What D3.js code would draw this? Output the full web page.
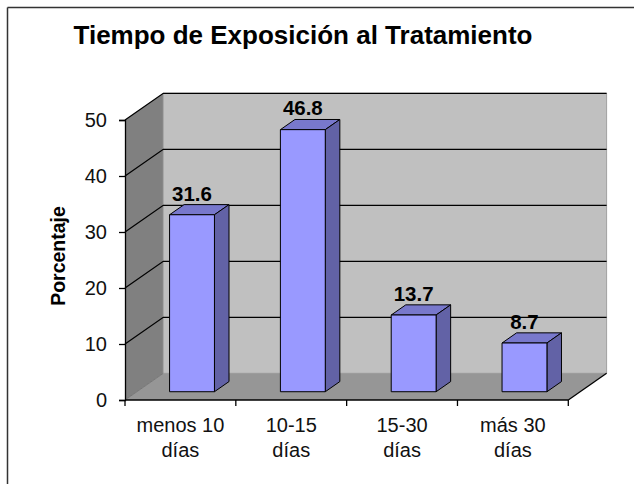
<!DOCTYPE html>
<html>
<head>
<meta charset="utf-8">
<script src="https://cdn.jsdelivr.net/npm/d3@7"></script>
<style>
  body { margin: 0; background: #fff; }
  text { font-family: "Liberation Sans", Arial, sans-serif; }
</style>
</head>
<body>
<div class="canvas"></div>
<script>
// data
var categories = ["menos 10 días", "10-15 días", "15-30 días", "más 30 días"]
var values = [31.6, 46.8, 13.7, 8.7]
var yTicks = [0, 10, 20, 30, 40, 50]

var width = 634, height = 484

var svg = d3.select(".canvas").append("svg").attr("width", width).attr("height", height)

// depth offset of the 3d box (back wall is shifted by this)
var DX = 38.3, DY = -26.7
// bars sit between these depths
var z1 = 0.31, z2 = 0.69

var x = d3.scaleBand().domain(categories).range([125, 568.3]).padding(0)
var y = d3.scaleLinear().domain([0, 50]).range([400, 120])

function proj(px, v, z) {
    return [px + DX * z, y(v) + DY * z]
}
function pts(arr) {
    return arr.map(function(p) { return p.join(",") }).join(" ")
}

// frame (only top and left edges show)
svg.append("line").attr("x1", 7.5).attr("y1", 7.5).attr("x2", width).attr("y2", 7.5)
    .attr("stroke", "#333").attr("stroke-width", 1.5)
svg.append("line").attr("x1", 7.5).attr("y1", 7.5).attr("x2", 7.5).attr("y2", height)
    .attr("stroke", "#333").attr("stroke-width", 1.5)

var x0 = x.range()[0], x1 = x.range()[1]

// left wall
svg.append("polygon")
    .attr("points", pts([proj(x0, 0, 0), proj(x0, 50, 0), proj(x0, 50, 1), proj(x0, 0, 1)]))
    .attr("fill", "#808080")

// back wall
svg.append("polygon")
    .attr("points", pts([proj(x0, 0, 1), proj(x0, 50, 1), proj(x1, 50, 1), proj(x1, 0, 1)]))
    .attr("fill", "#c0c0c0")
    .attr("stroke", "#a0a0a0")

// floor
svg.append("polygon")
    .attr("points", pts([proj(x0, 0, 0), proj(x1, 0, 0), proj(x1, 0, 1), proj(x0, 0, 1)]))
    .attr("fill", "#969696")

// gridlines on left and back walls
yTicks.forEach(function(t) {
    var a = proj(x0, t, 0), b = proj(x0, t, 1), c = proj(x1, t, 1)
    svg.append("polyline")
        .attr("points", pts(t == 0 ? [a, b] : [a, b, c]))
        .attr("fill", "none")
        .attr("stroke", t == 0 ? "#6a6a6a" : "black")
        .attr("stroke-width", t == 0 ? 0.8 : 1.3)
})

// right floor edge
svg.append("line")
    .attr("x1", proj(x1, 0, 0)[0]).attr("y1", proj(x1, 0, 0)[1])
    .attr("x2", proj(x1, 0, 1)[0]).attr("y2", proj(x1, 0, 1)[1])
    .attr("stroke", "black").attr("stroke-width", 1.3)

// bars
var bw = x.bandwidth() * 0.405
categories.forEach(function(c, i) {
    var v = values[i]
    var l = x(c) + x.bandwidth() * 0.295
    var r = l + bw

    // top
    svg.append("polygon")
        .attr("points", pts([proj(l, v, z1), proj(r, v, z1), proj(r, v, z2), proj(l, v, z2)]))
        .attr("fill", "#7878cc").attr("stroke", "black").attr("stroke-width", 1)
    // side
    svg.append("polygon")
        .attr("points", pts([proj(r, 0, z1), proj(r, v, z1), proj(r, v, z2), proj(r, 0, z2)]))
        .attr("fill", "#6262a6").attr("stroke", "black").attr("stroke-width", 1)
    // front
    svg.append("polygon")
        .attr("points", pts([proj(l, 0, z1), proj(l, v, z1), proj(r, v, z1), proj(r, 0, z1)]))
        .attr("fill", "#9999ff").attr("stroke", "black").attr("stroke-width", 1)

    // value label
    var top = proj(l, v, z2)
    svg.append("text")
        .attr("x", proj((l + r) / 2, v, z1)[0])
        .attr("y", top[1] - 4)
        .attr("text-anchor", "middle")
        .attr("font-size", 20.5)
        .attr("font-weight", "bold")
        .text(v.toFixed(1))
})

// y axis
var yAxis = svg.append("g")
    .attr("transform", "translate(" + x0 + ",0)")
    .call(d3.axisLeft(y).tickValues(yTicks).tickSize(6).tickPadding(12))
yAxis.select(".domain").attr("stroke", "black").attr("stroke-width", 1.3)
yAxis.selectAll(".tick line").attr("stroke", "black").attr("stroke-width", 1.3)
yAxis.selectAll(".tick text")
    .attr("font-family", "Liberation Sans, Arial, sans-serif")
    .attr("font-size", 20).attr("fill", "#111")

// x axis line with ticks at band edges
svg.append("line").attr("x1", x0).attr("y1", y(0)).attr("x2", x1).attr("y2", y(0))
    .attr("stroke", "black").attr("stroke-width", 1.3)
categories.map(function(c) { return x(c) }).concat([x1]).forEach(function(tx) {
    svg.append("line").attr("x1", tx).attr("y1", y(0)).attr("x2", tx).attr("y2", y(0) + 6)
        .attr("stroke", "black").attr("stroke-width", 1.3)
})

// category labels (two lines)
categories.forEach(function(c) {
    var k = c.lastIndexOf(" ")
    var lines = [c.slice(0, k), c.slice(k + 1)]
    var t = svg.append("text")
        .attr("text-anchor", "middle")
        .attr("font-size", 20)
        .attr("fill", "#111")
    lines.forEach(function(s, j) {
        t.append("tspan")
            .attr("x", x(c) + x.bandwidth() / 2)
            .attr("y", 432 + j * 25)
            .text(s)
    })
})

// titles
svg.append("text")
    .attr("x", 303).attr("y", 44)
    .attr("text-anchor", "middle")
    .attr("font-size", 26).attr("font-weight", "bold")
    .text("Tiempo de Exposición al Tratamiento")

svg.append("text")
    .attr("transform", "translate(65,256) rotate(-90)")
    .attr("text-anchor", "middle")
    .attr("font-size", 19.5).attr("font-weight", "bold")
    .text("Porcentaje")
</script>
</body>
</html>
